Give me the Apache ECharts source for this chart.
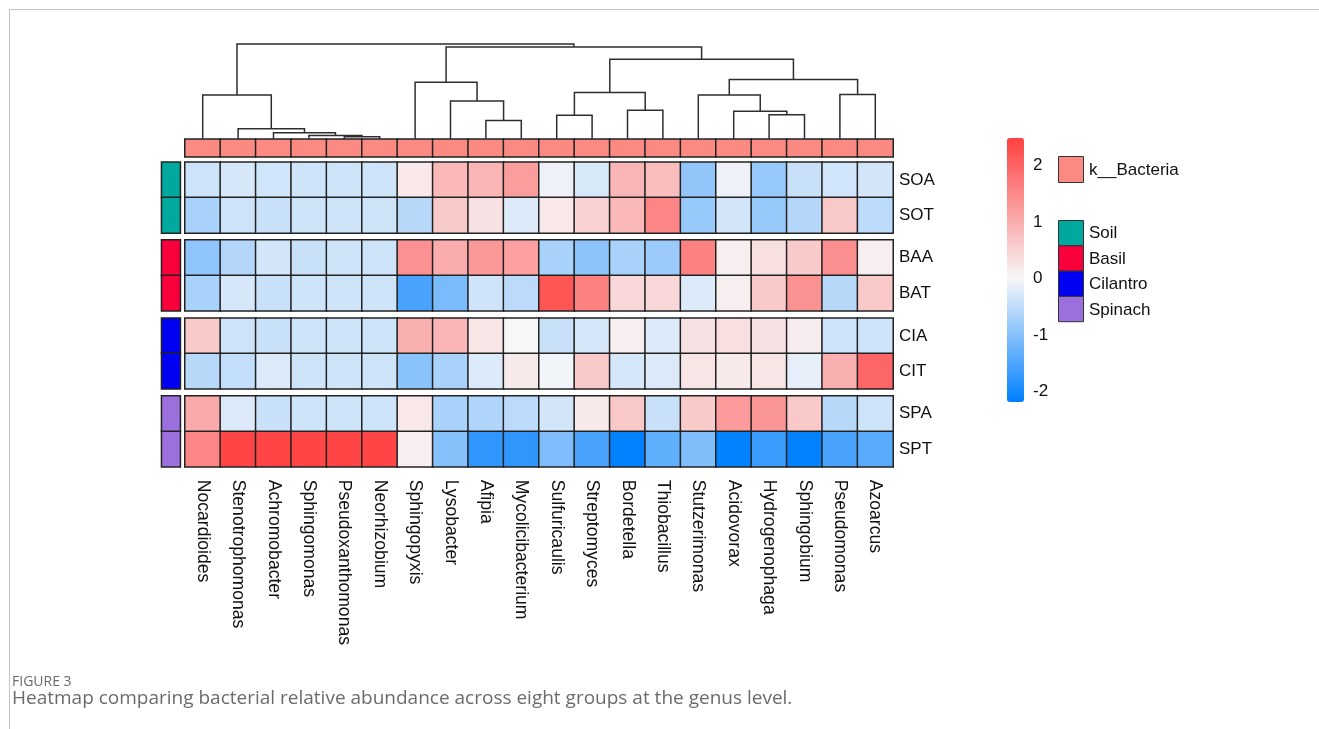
<!DOCTYPE html>
<html>
<head>
<meta charset="utf-8">
<script src="https://cdn.jsdelivr.net/npm/echarts@6/dist/echarts.min.js"></script>
<style>
  html, body { margin: 0; padding: 0; background: #ffffff; }
  #chart { width: 1319px; height: 729px; }
</style>
</head>
<body>
<div id="chart"></div>
<script>
// ---- data ----------------------------------------------------------------
const genera = ['Nocardioides', 'Stenotrophomonas', 'Achromobacter', 'Sphingomonas',
  'Pseudoxanthomonas', 'Neorhizobium', 'Sphingopyxis', 'Lysobacter', 'Afipia',
  'Mycolicibacterium', 'Sulfuricaulis', 'Streptomyces', 'Bordetella', 'Thiobacillus',
  'Stutzerimonas', 'Acidovorax', 'Hydrogenophaga', 'Sphingobium', 'Pseudomonas', 'Azoarcus'];

const samples = ['SOA', 'SOT', 'BAA', 'BAT', 'CIA', 'CIT', 'SPA', 'SPT'];
const groups = ['Soil', 'Basil', 'Cilantro', 'Spinach'];
const groupColors = ['#00A89D', '#F8003C', '#0000F2', '#9B6FDC'];
const kingdomLabel = 'k__Bacteria';
const kingdomColor = '#FA8A82';

// row-scaled relative abundance (z-scores), one array per sample
const zSOA = [-0.37, -0.30, -0.34, -0.36, -0.36, -0.36, 0.20, 0.85, 0.89, 1.22, -0.08, -0.28, 0.89, 0.79, -0.89, -0.08, -0.86, -0.41, -0.34, -0.32];
const zSOT = [-0.69, -0.37, -0.41, -0.36, -0.36, -0.36, -0.56, 0.61, 0.29, -0.23, 0.20, 0.50, 0.85, 1.55, -0.84, -0.32, -0.84, -0.60, 0.64, -0.52];
const zBAA = [-0.92, -0.60, -0.32, -0.41, -0.36, -0.36, 1.38, 1.02, 1.27, 1.19, -0.69, -0.94, -0.69, -0.80, 1.59, 0.12, 0.31, 0.61, 1.42, 0.12];
const zBAT = [-0.69, -0.30, -0.41, -0.36, -0.36, -0.36, -1.53, -1.10, -0.35, -0.52, 2.20, 1.59, 0.42, 0.42, -0.23, 0.12, 0.61, 1.37, -0.56, 0.64];
const zCIA = [0.61, -0.37, -0.41, -0.36, -0.36, -0.36, 0.96, 0.89, 0.23, 0.00, -0.41, -0.30, 0.12, -0.23, 0.29, 0.31, 0.29, 0.15, -0.38, -0.38];
const zCIT = [-0.56, -0.46, -0.25, -0.36, -0.36, -0.36, -0.96, -0.69, -0.23, 0.18, -0.05, 0.61, -0.30, -0.25, 0.23, 0.18, 0.23, -0.15, 0.96, 1.96];
const zSPA = [1.04, -0.25, -0.41, -0.36, -0.36, -0.36, 0.20, -0.69, -0.63, -0.52, -0.32, 0.18, 0.64, -0.41, 0.61, 1.25, 1.31, 0.64, -0.56, -0.38];
const zSPT = [1.55, 2.41, 2.41, 2.41, 2.41, 2.41, 0.12, -1.01, -1.77, -1.77, -1.07, -1.53, -2.15, -1.33, -1.05, -2.15, -1.67, -2.15, -1.53, -1.39];
const sampleValues = [zSOA, zSOT, zBAA, zBAT, zCIA, zCIT, zSPA, zSPT];

// colour scale limits and tick labels
const scaleMin = -2.18;
const scaleMax = 2.48;
const colorTicks = [-2, -1, 0, 1, 2];

// column clustering, hclust convention: negative = leaf (1-based), positive = earlier merge
const mergeLeft   = [-5, -4, -3, -2, -1, -9, -8, -7, -11, -13, 9, -17, -16, -15, -19, 14, 11, 8, 5];
const mergeRight  = [-6,  1,  2,  3,  4, -10, 6,  7, -12, -14, 10, -18, 12, 13, -20, 15, 16, 17, 18];
const mergeHeight = [0.021, 0.035, 0.064, 0.106, 0.461, 0.191, 0.397, 0.596, 0.248, 0.301,
  0.489, 0.252, 0.291, 0.461, 0.468, 0.624, 0.840, 0.968, 1.000];

const captionTitle = 'FIGURE 3';
const captionText = 'Heatmap comparing bacterial relative abundance across eight groups at the genus level.';

// ---- layout --------------------------------------------------------------
const FONT = '"Liberation Sans", Arial, Helvetica, sans-serif';
const hmLeft = 185, hmWidth = 708;
const rowH = 35.3;
const blockTops = [162.3, 240.1, 318.2, 396.1];
const cellBorder = '#222222';
const cellBorderWidth = 1.5;

// palette: blue -> near white at 0 -> red, spread over [scaleMin, scaleMax]
function lerpColor(a, b, t) {
  const r = Math.round(a[0] + (b[0] - a[0]) * t);
  const g = Math.round(a[1] + (b[1] - a[1]) * t);
  const bl = Math.round(a[2] + (b[2] - a[2]) * t);
  return 'rgb(' + r + ',' + g + ',' + bl + ')';
}
const cLow = [0, 128, 255], cMid = [247, 247, 248], cHigh = [255, 64, 64];
const paletteStops = [];
for (let i = 0; i <= 60; i++) {
  const v = scaleMin + (scaleMax - scaleMin) * i / 60;
  paletteStops.push(v <= 0 ? lerpColor(cMid, cLow, v / scaleMin) : lerpColor(cMid, cHigh, v / scaleMax));
}

// dendrogram segments
function nodePos(id) {
  return id < 0 ? { x: -id - 1, h: 0 } : mergeNodes[id - 1];
}
const mergeNodes = [];
const dendroSegs = [];
for (let i = 0; i < mergeHeight.length; i++) {
  const a = nodePos(mergeLeft[i]);
  const b = nodePos(mergeRight[i]);
  const h = mergeHeight[i];
  dendroSegs.push([a.x, a.h, b.x, b.h, h]);
  mergeNodes.push({ x: (a.x + b.x) / 2, h: h });
}

// ---- option --------------------------------------------------------------
const grids = [], xAxes = [], yAxes = [], series = [];

// 0: dendrogram
grids.push({ left: hmLeft, top: 44, width: hmWidth, height: 94.7 });
xAxes.push({ type: 'value', gridIndex: 0, min: -0.5, max: genera.length - 0.5, show: false });
yAxes.push({ type: 'value', gridIndex: 0, min: 0, max: 1, show: false });
series.push({
  type: 'custom', xAxisIndex: 0, yAxisIndex: 0, silent: true,
  data: dendroSegs,
  renderItem: function (params, api) {
    const xl = api.value(0), hl = api.value(1), xr = api.value(2), hr = api.value(3), h = api.value(4);
    return {
      type: 'polyline',
      shape: { points: [api.coord([xl, hl]), api.coord([xl, h]), api.coord([xr, h]), api.coord([xr, hr])] },
      style: { stroke: '#2e2e2e', lineWidth: 1.5, fill: null }
    };
  }
});

// 1: kingdom annotation row
grids.push({ left: hmLeft, top: 139.3, width: hmWidth, height: 17.4 });
xAxes.push({ type: 'category', gridIndex: 1, data: genera, show: false });
yAxes.push({ type: 'category', gridIndex: 1, data: [kingdomLabel], show: false });
series.push({
  type: 'heatmap', xAxisIndex: 1, yAxisIndex: 1, silent: true,
  data: genera.map((g, i) => [i, 0, 1]),
  itemStyle: { color: kingdomColor, borderColor: cellBorder, borderWidth: cellBorderWidth }
});

// 2..5: heatmap blocks, two samples per group
const heatSeriesIdx = [];
groups.forEach((grp, g) => {
  const gi = grids.length;
  grids.push({ left: hmLeft, top: blockTops[g], width: hmWidth, height: rowH * 2 });
  xAxes.push({
    type: 'category', gridIndex: gi, data: genera,
    axisLine: { show: false }, axisTick: { show: false },
    axisLabel: {
      show: g === groups.length - 1, rotate: -90, interval: 0, margin: 13,
      fontFamily: FONT, fontSize: 17.6, color: '#111'
    }
  });
  const rows = samples.slice(g * 2, g * 2 + 2);
  yAxes.push({
    type: 'category', gridIndex: gi, data: rows, inverse: true, position: 'right',
    axisLine: { show: false }, axisTick: { show: false },
    axisLabel: { margin: 6, fontFamily: FONT, fontSize: 17, color: '#111' }
  });
  const data = [];
  rows.forEach((r, ri) => {
    sampleValues[g * 2 + ri].forEach((v, ci) => data.push([ci, ri, v]));
  });
  heatSeriesIdx.push(series.length);
  series.push({
    type: 'heatmap', name: grp, xAxisIndex: gi, yAxisIndex: gi, silent: true,
    data: data,
    itemStyle: { borderColor: cellBorder, borderWidth: cellBorderWidth }
  });
});

// 6..9: sample group annotation column
groups.forEach((grp, g) => {
  const gi = grids.length;
  grids.push({ left: 161.7, top: blockTops[g], width: 18.5, height: rowH * 2 });
  xAxes.push({ type: 'category', gridIndex: gi, data: ['Group'], show: false });
  yAxes.push({ type: 'category', gridIndex: gi, data: samples.slice(g * 2, g * 2 + 2), inverse: true, show: false });
  series.push({
    type: 'heatmap', xAxisIndex: gi, yAxisIndex: gi, silent: true,
    data: [[0, 0, g], [0, 1, g]],
    itemStyle: { color: groupColors[g], borderColor: cellBorder, borderWidth: cellBorderWidth }
  });
});

// 10: colour bar tick labels
const cbGrid = grids.length;
grids.push({ left: 1007, top: 138, width: 17, height: 264 });
xAxes.push({ type: 'category', gridIndex: cbGrid, data: [''], show: false });
yAxes.push({
  type: 'value', gridIndex: cbGrid, min: scaleMin, max: scaleMax, position: 'right',
  axisLine: { show: false }, axisTick: { show: false }, splitLine: { show: false },
  axisLabel: { customValues: colorTicks, margin: 9, fontFamily: FONT, fontSize: 17, color: '#111' }
});

// legend blocks for the annotations
const legendGraphics = [];
legendGraphics.push({
  type: 'rect', left: 1058, top: 156, shape: { width: 25, height: 26 },
  style: { fill: kingdomColor, stroke: '#333', lineWidth: 1 }
});
legendGraphics.push({
  type: 'text', left: 1089, top: 162,
  style: { text: kingdomLabel, font: '17px ' + FONT, fill: '#111' }
});
groups.forEach((grp, g) => {
  legendGraphics.push({
    type: 'rect', left: 1058, top: 220 + g * 25.3, shape: { width: 25, height: 25.3 },
    style: { fill: groupColors[g], stroke: '#333', lineWidth: 1 }
  });
  legendGraphics.push({
    type: 'text', left: 1089, top: 225 + g * 25.5,
    style: { text: grp, font: '17px ' + FONT, fill: '#111' }
  });
});

// page frame and caption
const frameGraphics = [
  { type: 'line', shape: { x1: 9, y1: 9.5, x2: 1319, y2: 9.5 }, style: { stroke: '#c4c4c4', lineWidth: 1 } },
  { type: 'line', shape: { x1: 9.5, y1: 9, x2: 9.5, y2: 729 }, style: { stroke: '#c4c4c4', lineWidth: 1 } },
  { type: 'text', left: 12, top: 675, style: { text: captionTitle, font: '14px "Open Sans", sans-serif', fill: '#6b6b6b' } },
  { type: 'text', left: 12, top: 689, style: { text: captionText, font: '19px "Open Sans", sans-serif', fill: '#6b6b6b' } }
];

const option = {
  animation: false,
  backgroundColor: '#ffffff',
  grid: grids,
  xAxis: xAxes,
  yAxis: yAxes,
  visualMap: {
    type: 'continuous', seriesIndex: heatSeriesIdx,
    min: scaleMin, max: scaleMax, calculable: false, text: null, showLabel: false,
    orient: 'vertical', left: 1007, top: 138, itemWidth: 17, itemHeight: 264, padding: 0,
    inRange: { color: paletteStops }
  },
  series: series,
  graphic: legendGraphics.concat(frameGraphics)
};

const chart = echarts.init(document.getElementById('chart'), null, { renderer: 'canvas' });
chart.setOption(option);
</script>
</body>
</html>
